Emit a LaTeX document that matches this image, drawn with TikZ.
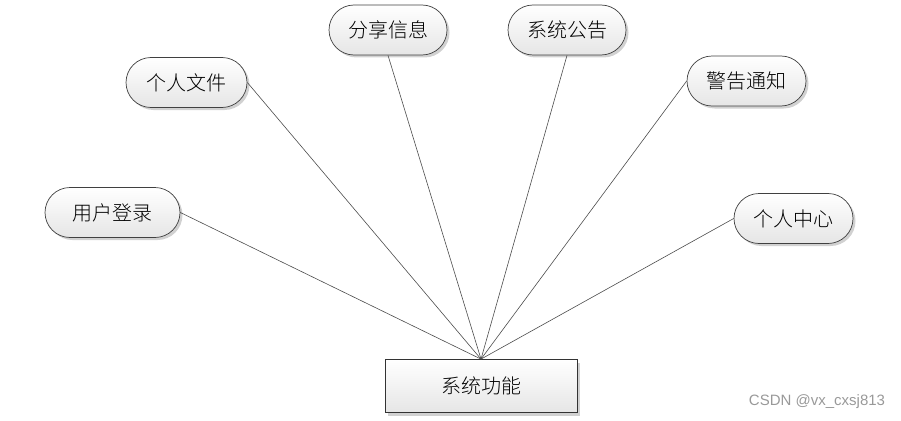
\documentclass[tikz,border=0pt]{standalone}
\usepackage{fontspec}
\newfontfamily\cjk{Noto Sans CJK SC Light}
\setsansfont{Liberation Sans}
\usetikzlibrary{shadows,shapes.misc}
\tikzset{
  pill/.style={rounded rectangle, draw=black!75, line width=0.7pt,
    top color=white, bottom color=black!10,
    drop shadow={shadow xshift=2.5pt, shadow yshift=-2.5pt, fill=black!30, opacity=0.6},
    minimum height=50pt, inner sep=0pt, font=\cjk\fontsize{20}{20}\selectfont},
  mainbox/.style={rectangle, draw=black!80, line width=0.8pt,
    top color=white, bottom color=black!10,
    drop shadow={shadow xshift=3pt, shadow yshift=-3pt, fill=black!30, opacity=0.6},
    minimum width=192pt, minimum height=53pt, inner sep=0pt, font=\cjk\fontsize{20}{20}\selectfont},
  link/.style={draw=black!70, line width=0.6pt},
  wmark/.style={font=\sffamily\fontsize{15}{15}\selectfont, text=black!40}
}
\begin{document}
\begin{tikzpicture}[x=1pt,y=-1pt]
\useasboundingbox (0,0) rectangle (901,420);
\node[pill, minimum width=135pt] (a) at (112.5,212.5) {用户登录};
\node[pill, minimum width=121pt] (b) at (186.5,82.5) {个人文件};
\node[pill, minimum width=118pt] (c) at (388,30) {分享信息};
\node[pill, minimum width=118pt] (d) at (567,30) {系统公告};
\node[pill, minimum width=119pt] (e) at (746.5,81) {警告通知};
\node[pill, minimum width=119pt] (f) at (793.5,218.5) {个人中心};
\node[mainbox] (g) at (481,386) {系统功能};
\draw[link] (a.east) -- (g.north);
\draw[link] (b.east) -- (g.north);
\draw[link] (c.south) -- (g.north);
\draw[link] (d.south) -- (g.north);
\draw[link] (e.west) -- (g.north);
\draw[link] (f.west) -- (g.north);
\node[wmark] (wm) at (817,402) {CSDN @vx\_cxsj813};
\end{tikzpicture}
\end{document}
